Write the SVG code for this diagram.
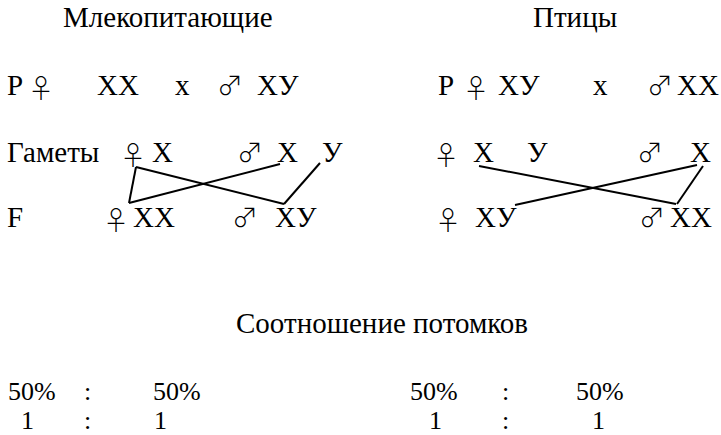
<svg xmlns="http://www.w3.org/2000/svg" width="721" height="435" viewBox="0 0 721 435">
<style>
line{stroke:#000;stroke-width:2}
</style>
<rect width="721" height="435" fill="#fff"/>
<g font-family="Liberation Serif" font-size="29" fill="#000">
<g id="titles">
<text x="63" y="27">Млекопитающие</text>
<text x="533" y="27">Птицы</text>
</g>
<g id="mammals">
<text x="7" y="95">P</text><text font-family="Noto Sans CJK SC" font-weight="300" font-size="26" x="28" y="98">♀</text>
<text x="97" y="95">XX</text><text x="175" y="95">x</text>
<text font-family="Noto Sans CJK SC" font-weight="300" font-size="26" x="217" y="95">♂</text><text x="257" y="95">XУ</text>
<text x="7" y="162">Гаметы</text><text font-family="Noto Sans CJK SC" font-weight="300" font-size="26" x="120" y="165">♀</text><text x="152" y="162">X</text>
<text font-family="Noto Sans CJK SC" font-weight="300" font-size="26" x="237" y="162">♂</text><text x="277" y="162">X</text><text x="322" y="162">У</text>
<text x="7" y="227">F</text><text font-family="Noto Sans CJK SC" font-weight="300" font-size="26" x="103" y="230">♀</text><text x="133" y="227">XX</text>
<text font-family="Noto Sans CJK SC" font-weight="300" font-size="26" x="232" y="227">♂</text><text x="275" y="227">XУ</text>
</g>
<g id="birds">
<text x="438" y="95">P</text><text font-family="Noto Sans CJK SC" font-weight="300" font-size="26" x="463" y="98">♀</text><text x="498" y="95">XУ</text>
<text x="593" y="95">x</text><text font-family="Noto Sans CJK SC" font-weight="300" font-size="26" x="647" y="95">♂</text><text x="677" y="95">XX</text>
<text font-family="Noto Sans CJK SC" font-weight="300" font-size="26" x="433" y="165">♀</text><text x="473" y="162">X</text><text x="527" y="162">У</text>
<text font-family="Noto Sans CJK SC" font-weight="300" font-size="26" x="637" y="162">♂</text><text x="690" y="162">X</text>
<text font-family="Noto Sans CJK SC" font-weight="300" font-size="26" x="435" y="230">♀</text><text x="475" y="227">XУ</text>
<text font-family="Noto Sans CJK SC" font-weight="300" font-size="26" x="639" y="227">♂</text><text x="670" y="227">XX</text>
</g>
<g id="ratio">
<text x="236" y="333">Соотношение потомков</text>
<g font-size="26">
<text x="8" y="400">50%</text><text x="84" y="400">:</text><text x="153" y="400">50%</text>
<text x="410" y="400">50%</text><text x="502" y="400">:</text><text x="576" y="400">50%</text>
<text x="21" y="429">1</text><text x="84" y="429">:</text><text x="154" y="429">1</text>
<text x="429" y="429">1</text><text x="502" y="429">:</text><text x="592" y="429">1</text>
</g>
</g>
</g>
<g id="connectors">
<line x1="136" y1="167" x2="129" y2="203"/>
<line x1="129" y1="203" x2="280" y2="164"/>
<line x1="136" y1="167" x2="284" y2="204"/>
<line x1="284" y1="204" x2="320" y2="163"/>
<line x1="479" y1="166" x2="676" y2="204"/>
<line x1="515" y1="205" x2="697" y2="165"/>
<line x1="703" y1="166" x2="677" y2="204"/>
</g>
</svg>
